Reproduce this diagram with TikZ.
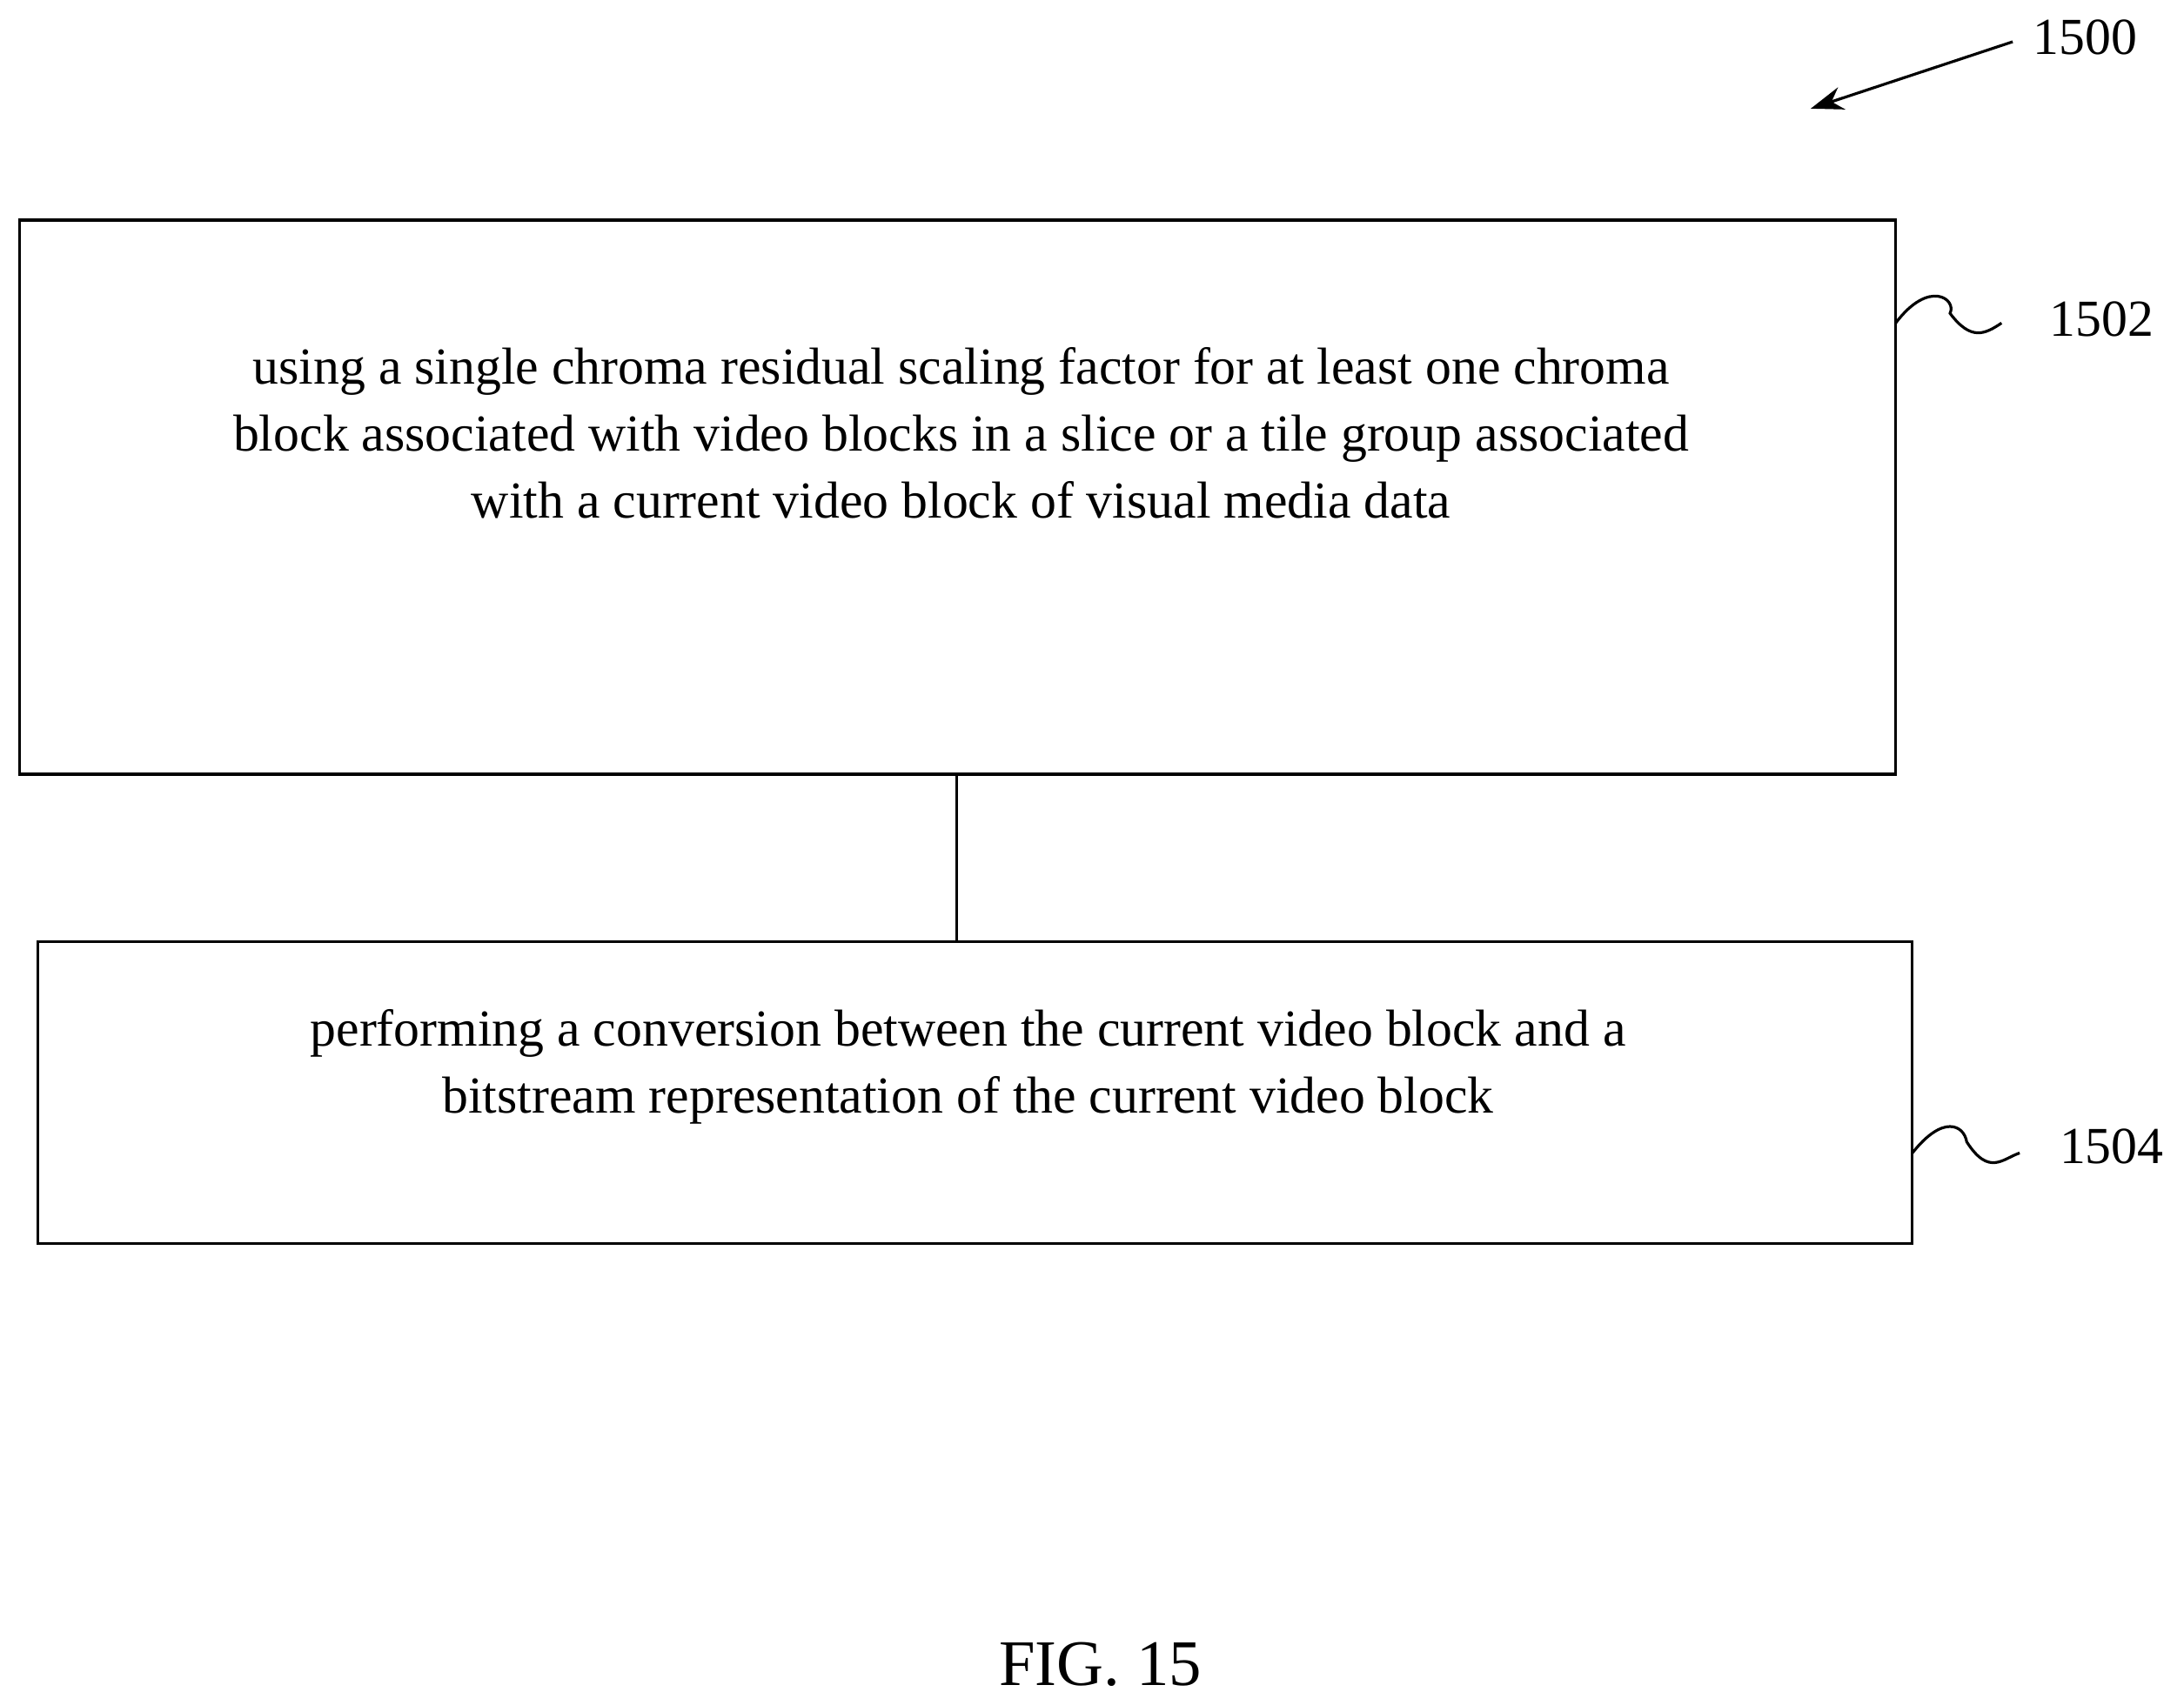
\documentclass[tikz,border=0pt]{standalone}
\usepackage{fontspec}
\setmainfont{Liberation Serif}
\usetikzlibrary{arrows.meta}
\begin{document}
\begin{tikzpicture}[x=0.3pt,y=-0.3pt,
  box/.style={draw,line width=0.6pt,inner sep=0},
  txt/.style={align=center,font=\fontsize{11.2}{14.4}\selectfont},
  lab/.style={font=\fontsize{11.2}{14}\selectfont},
  every path/.style={line width=0.6pt}]
\useasboundingbox (0,0) rectangle (1568,1224);
\draw[box] (14,158) rectangle (1361,556);
\draw[box] (27,676) rectangle (1373,893);
\coordinate (b1) at (687,556);
\coordinate (b2) at (687,676);
\draw (b1) -- (b2);
\node[txt] (t1) at (690,311) {using a single chroma residual scaling factor for at least one chroma\\block associated with video blocks in a slice or a tile group associated\\with a current video block of visual media data};
\node[txt] (t2) at (695,766) {performing a conversion between the current video block and a\\bitstream representation of the current video block};
\node[lab] (l1500) at (1497,27) {1500};
\node[lab] (l1502) at (1509,229) {1502};
\node[lab] (l1504) at (1516,823) {1504};
\node[font=\fontsize{14}{16}\selectfont] (fig) at (790,1195) {FIG. 15};
\coordinate (a1) at (1445,30);
\coordinate (a2) at (1300,78);
\draw[-{Stealth[length=7pt,width=5pt]}] (a1) -- (a2);
\coordinate (s1) at (1361,232);
\coordinate (s1e) at (1437,232);
\draw (s1) .. controls (1385,200) and (1405,215) .. (1400,225) .. controls (1415,245) and (1425,240) .. (s1e);
\coordinate (s2) at (1373,828);
\coordinate (s2e) at (1450,828);
\draw (s2) .. controls (1395,800) and (1410,808) .. (1412,820) .. controls (1428,845) and (1438,832) .. (s2e);
\end{tikzpicture}
\end{document}
